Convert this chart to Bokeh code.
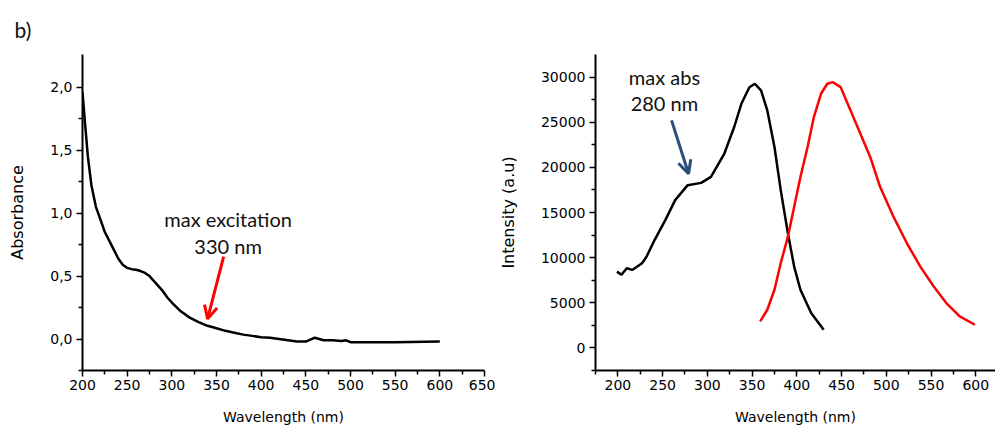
from bokeh.plotting import figure
from bokeh.layouts import row
from bokeh.models import (FixedTicker, CustomJSTickFormatter, Label, Arrow, OpenHead)
from bokeh.embed import file_html
from bokeh.resources import INLINE

# ---------------- data ----------------
abs_wavelength = [200, 203, 206, 210, 215, 220, 225, 230, 235, 240, 245, 250, 255, 260,
                  265, 270, 275, 280, 285, 290, 295, 300, 310, 320, 330, 340, 350, 360,
                  370, 380, 390, 400, 410, 420, 430, 440, 450, 455, 460, 465, 470, 480,
                  490, 495, 500, 520, 550, 600]
absorbance = [1.96, 1.70, 1.45, 1.22, 1.05, 0.95, 0.85, 0.78, 0.71, 0.64, 0.59, 0.565, 0.555, 0.55,
              0.54, 0.525, 0.50, 0.46, 0.42, 0.38, 0.33, 0.29, 0.22, 0.17, 0.135, 0.105, 0.085, 0.065,
              0.05, 0.035, 0.025, 0.015, 0.01, 0.0, -0.01, -0.02, -0.02, -0.005, 0.01, 0.0, -0.01, -0.01,
              -0.015, -0.01, -0.025, -0.025, -0.025, -0.02]

exc_wavelength = [199, 204, 210, 216, 227, 232, 241, 253, 264, 278, 293, 304, 319, 330,
                  338, 347, 353, 360, 367, 375, 382, 390, 397, 404, 416, 430]
exc_intensity = [8450, 8100, 8830, 8640, 9380, 10100, 11950, 14150, 16370, 18030, 18280, 18940, 21530, 24470,
                 27040, 28880, 29260, 28520, 26300, 22260, 17480, 12700, 9010, 6440, 3860, 2020]

em_wavelength = [359, 367, 375, 382, 390, 397, 404, 412, 419, 427, 434, 440, 449, 460,
                 471, 482, 493, 508, 523, 538, 553, 567, 582, 599]
em_intensity = [2940, 4230, 6440, 9380, 12320, 15630, 18940, 22260, 25570, 28150, 29260, 29440, 28880, 26310,
                23730, 21150, 17840, 14530, 11590, 9010, 6800, 4970, 3490, 2570]

left_x_ticks = [200, 250, 300, 350, 400, 450, 500, 550, 600, 650]
left_x_minor = [225, 275, 325, 375, 425, 475, 525, 575, 625]
left_y_ticks = [0.0, 0.5, 1.0, 1.5, 2.0]
left_y_minor = [-0.25, 0.25, 0.75, 1.25, 1.75]
right_x_ticks = [200, 250, 300, 350, 400, 450, 500, 550, 600]
right_x_minor = [175, 225, 275, 325, 375, 425, 475, 525, 575]
right_y_ticks = [0, 5000, 10000, 15000, 20000, 25000, 30000]
right_y_minor = [-2500, 2500, 7500, 12500, 17500, 22500, 27500]

TICK_FONT = "DejaVu Sans"
ANNOT_FONT = "Lato"


def style_axes(p):
    p.grid.visible = False
    p.outline_line_color = None
    p.background_fill_color = "white"
    p.border_fill_color = "white"
    for ax in p.axis:
        ax.axis_line_width = 2
        ax.axis_line_color = "black"
        ax.major_tick_line_width = 1.5
        ax.minor_tick_line_width = 1.5
        ax.major_tick_out = 6
        ax.major_tick_in = 0
        ax.minor_tick_out = 4
        ax.minor_tick_in = 0
        ax.major_label_text_font = TICK_FONT
        ax.major_label_text_font_size = "14px"
        ax.major_label_text_color = "black"
        ax.axis_label_text_font = TICK_FONT
        ax.axis_label_text_font_style = "normal"
        ax.axis_label_text_color = "black"
    p.xaxis.axis_label_text_font_size = "14px"
    p.yaxis.axis_label_text_font_size = "16px"
    p.xaxis.major_label_standoff = 3
    p.yaxis.major_label_standoff = 4
    p.xaxis.axis_label_standoff = 16
    p.yaxis.axis_label_standoff = 20


# ---------------- left panel ----------------
p1 = figure(width=495, height=431, x_range=(200, 650), y_range=(-0.25, 2.26),
            output_backend="svg", toolbar_location=None,
            min_border_left=82, min_border_right=11, min_border_top=53, min_border_bottom=61,
            x_axis_label="Wavelength (nm)", y_axis_label="Absorbance",
            title="b)")
style_axes(p1)
p1.title.align = "left"
p1.title.offset = -68
p1.title.standoff = 25
p1.title.text_font = ANNOT_FONT
p1.title.text_font_size = "21px"
p1.title.text_font_style = "normal"
p1.title.text_color = "#111111"
p1.xaxis.ticker = FixedTicker(ticks=left_x_ticks, minor_ticks=left_x_minor)
p1.yaxis.ticker = FixedTicker(ticks=left_y_ticks, minor_ticks=left_y_minor)
p1.yaxis.formatter = CustomJSTickFormatter(code="return tick.toFixed(1).replace('.', ',');")
p1.line(abs_wavelength, absorbance, line_color="black", line_width=2.5)

p1.add_layout(Label(x=363, y=0.95, text="max excitation", text_font=ANNOT_FONT,
                    text_font_size="20px", text_align="center", text_baseline="middle",
                    text_color="#111111"))
p1.add_layout(Label(x=363, y=0.735, text="330 nm", text_font=ANNOT_FONT,
                    text_font_size="20px", text_align="center", text_baseline="middle",
                    text_color="#111111"))
p1.add_layout(Arrow(x_start=358, y_start=0.655, x_end=340, y_end=0.16,
                    line_color="red", line_width=3,
                    end=OpenHead(size=13, line_color="red", line_width=3)))

# ---------------- right panel ----------------
p2 = figure(width=500, height=431, x_range=(175, 622), y_range=(-2500, 32500),
            output_backend="svg", toolbar_location=None,
            min_border_left=98, min_border_right=0, min_border_top=54, min_border_bottom=59,
            x_axis_label="Wavelength (nm)", y_axis_label="Intensity (a.u)")
style_axes(p2)
p2.xaxis.ticker = FixedTicker(ticks=right_x_ticks, minor_ticks=right_x_minor)
p2.yaxis.ticker = FixedTicker(ticks=right_y_ticks, minor_ticks=right_y_minor)
p2.yaxis.formatter = CustomJSTickFormatter(code="return tick.toFixed(0);")
p2.line(exc_wavelength, exc_intensity, line_color="black", line_width=2.5)
p2.line(em_wavelength, em_intensity, line_color="#ff0000", line_width=2.5)

p2.add_layout(Label(x=252, y=29990, text="max abs", text_font=ANNOT_FONT,
                    text_font_size="20px", text_align="center", text_baseline="middle",
                    text_color="#111111"))
p2.add_layout(Label(x=252, y=27080, text="280 nm", text_font=ANNOT_FONT,
                    text_font_size="20px", text_align="center", text_baseline="middle",
                    text_color="#111111"))
p2.add_layout(Arrow(x_start=260, y_start=25200, x_end=279, y_end=19300,
                    line_color="#2a4d7b", line_width=3,
                    end=OpenHead(size=13, line_color="#2a4d7b", line_width=3)))

layout = row(p1, p2, spacing=0)
open("out.html", "w").write(file_html(layout, INLINE))
